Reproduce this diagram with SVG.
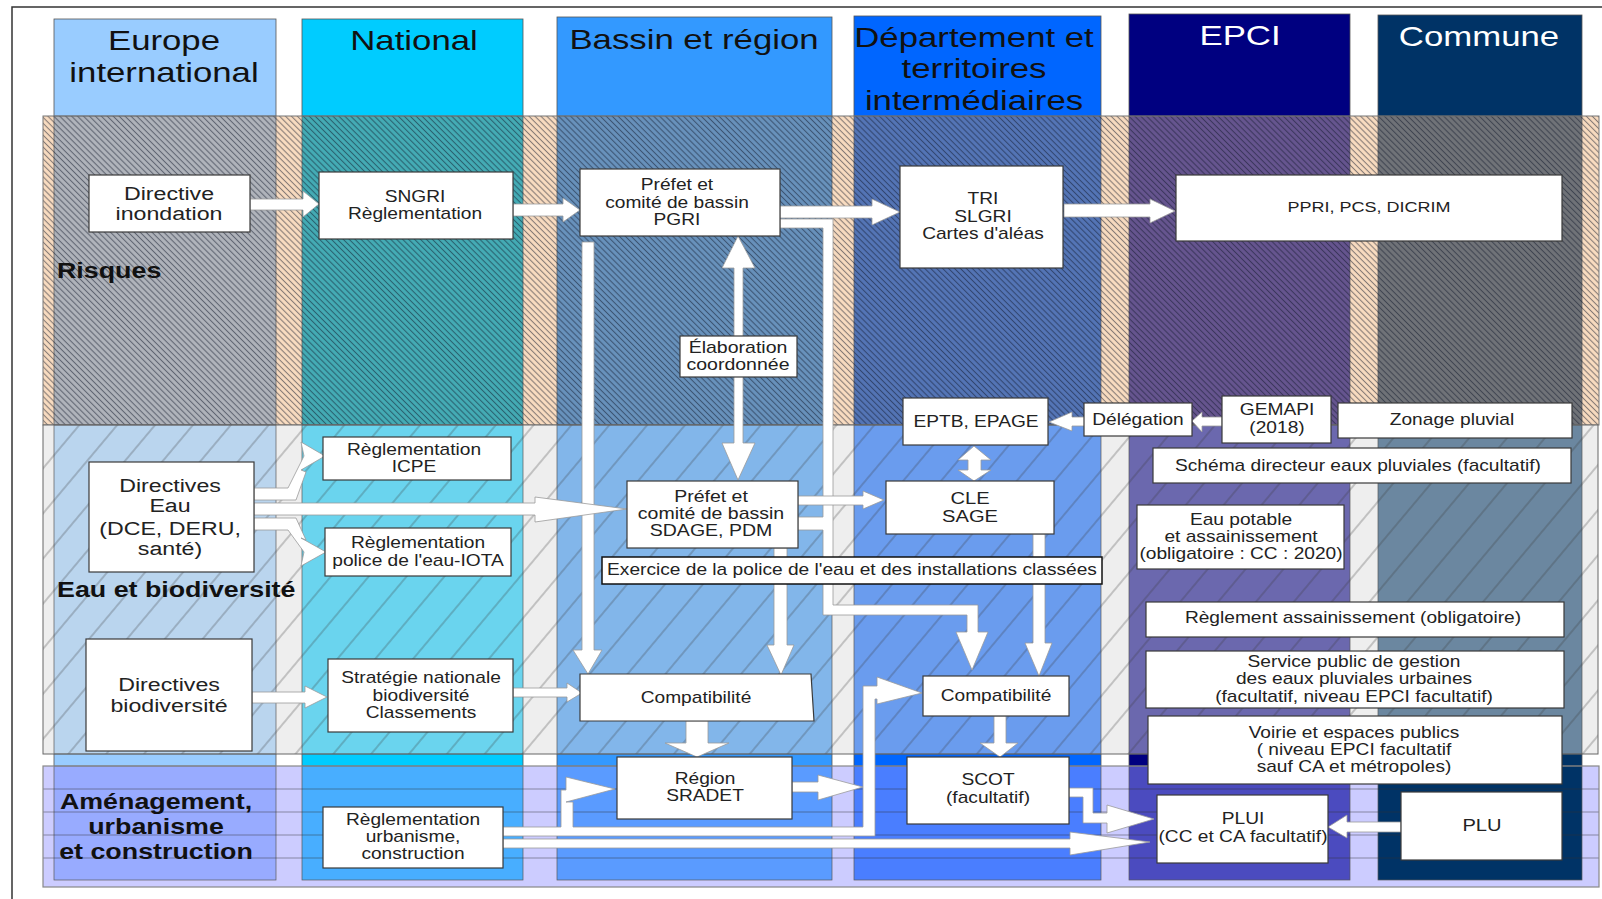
<svg xmlns="http://www.w3.org/2000/svg" width="1602" height="899" viewBox="0 0 1602 899">
<defs>
<pattern id="hR" patternUnits="userSpaceOnUse" width="4.2" height="10" patternTransform="rotate(-45)"><line x1="2.1" y1="0" x2="2.1" y2="10" stroke="#10182a" stroke-opacity="0.5" stroke-width="1.1"/></pattern>
<pattern id="hE" patternUnits="userSpaceOnUse" width="29" height="40" patternTransform="rotate(40)"><line x1="15" y1="0" x2="15" y2="40" stroke="#3a3a3a" stroke-opacity="0.55" stroke-width="0.9"/></pattern>
</defs>
<style>
.box{fill:#fff;stroke:#3a3a3a;stroke-width:1.2}
.t{font-family:"Liberation Sans",Arial,sans-serif;font-size:15.7px;fill:#222;text-anchor:middle}
.t19{font-size:19px}
.hd{font-family:"Liberation Sans",Arial,sans-serif;font-size:28.5px;fill:#111;text-anchor:middle}
.hw{fill:#fff}
.bl{font-family:"Liberation Sans",Arial,sans-serif;font-size:22px;font-weight:bold;fill:#111}
.ar{fill:#fff;stroke:#9a9a9a;stroke-width:0.8;stroke-linejoin:miter}
.col{stroke:#555;stroke-width:0.8}
.bc{stroke:#5a5a5a;stroke-width:0.7}
</style>
<rect width="1602" height="899" fill="#fff"/>
<path d="M12 899 V7 H1602" fill="none" stroke="#333" stroke-width="1.5"/>

<g id="columns">
<rect class="col" x="54" y="19" width="222" height="861" fill="#99ccff"/>
<rect class="col" x="302" y="19" width="221" height="861" fill="#00ccff"/>
<rect class="col" x="557" y="17" width="275" height="863" fill="#3399ff"/>
<rect class="col" x="854" y="16" width="247" height="864" fill="#0066ff"/>
<rect class="col" x="1129" y="14" width="221" height="866" fill="#000080"/>
<rect class="col" x="1378" y="15" width="204" height="865" fill="#003366"/>
</g>

<g id="band-risques">
<rect x="43" y="116" width="1556" height="309" fill="#f9dcc0"/>
<rect class="bc" x="54" y="116" width="222" height="309" fill="#b0b4bb"/>
<rect class="bc" x="302" y="116" width="221" height="309" fill="#44acb5"/>
<rect class="bc" x="557" y="116" width="275" height="309" fill="#6892bc"/>
<rect class="bc" x="854" y="116" width="247" height="309" fill="#5475b6"/>
<rect class="bc" x="1129" y="116" width="221" height="309" fill="#66558f"/>
<rect class="bc" x="1378" y="116" width="204" height="309" fill="#707378"/>
<rect x="43" y="116" width="1556" height="309" fill="url(#hR)" stroke="#777" stroke-width="1"/>
</g>

<g id="band-eau">
<rect x="43" y="425" width="1555" height="329" fill="#eeeeee"/>
<rect class="bc" x="54" y="425" width="222" height="329" fill="#bad5ee"/>
<rect class="bc" x="302" y="425" width="221" height="329" fill="#6ad4ee"/>
<rect class="bc" x="557" y="425" width="275" height="329" fill="#82b6ea"/>
<rect class="bc" x="854" y="425" width="247" height="329" fill="#6a9cee"/>
<rect class="bc" x="1129" y="425" width="221" height="329" fill="#6b68ae"/>
<rect class="bc" x="1378" y="425" width="204" height="329" fill="#6b87a0"/>
<rect x="43" y="425" width="1555" height="329" fill="url(#hE)" stroke="#666" stroke-width="1"/>
</g>

<g id="band-amenagement">
<rect x="43" y="766" width="1556" height="121" fill="#ccccff"/>
<rect class="bc" x="54" y="766" width="222" height="114" fill="#98abff"/>
<rect class="bc" x="302" y="766" width="221" height="114" fill="#48aeff"/>
<rect class="bc" x="557" y="766" width="275" height="114" fill="#5a9bff"/>
<rect class="bc" x="854" y="766" width="247" height="114" fill="#4a7eff"/>
<rect class="bc" x="1129" y="766" width="221" height="114" fill="#4b4bbf"/>
<rect class="bc" x="1378" y="766" width="204" height="114" fill="#003366"/>
<g stroke="#333" stroke-opacity="0.45" stroke-width="1">
<line x1="43" y1="789" x2="1599" y2="789"/>
<line x1="43" y1="812" x2="1599" y2="812"/>
<line x1="43" y1="835" x2="1599" y2="835"/>
<line x1="43" y1="858" x2="1599" y2="858"/>
</g>
<rect x="43" y="766" width="1556" height="121" fill="none" stroke="#888" stroke-width="1.2"/>
</g>

<g id="headers">
<text class="hd" transform="translate(164 0) scale(1.22 1)"><tspan x="0" y="50">Europe</tspan><tspan x="0" y="82">international</tspan></text>
<text class="hd" transform="translate(414 0) scale(1.22 1)" y="50">National</text>
<text class="hd" transform="translate(694 0) scale(1.22 1)" y="49">Bassin et région</text>
<text class="hd" transform="translate(974 0) scale(1.22 1)"><tspan x="0" y="47">Département et</tspan><tspan x="0" y="78">territoires</tspan><tspan x="0" y="110">intermédiaires</tspan></text>
<text class="hd hw" transform="translate(1240 0) scale(1.22 1)" y="45">EPCI</text>
<text class="hd hw" transform="translate(1479 0) scale(1.22 1)" y="46">Commune</text>
</g>

<g id="band-labels">
<text class="bl" transform="translate(57 0) scale(1.22 1)" y="278">Risques</text>
<text class="bl" transform="translate(57 0) scale(1.22 1)" y="597">Eau et biodiversité</text>
<text class="bl" transform="translate(156 0) scale(1.22 1)" text-anchor="middle"><tspan x="0" y="809">Aménagement,</tspan><tspan x="0" y="834">urbanisme</tspan><tspan x="0" y="859">et construction</tspan></text>
</g>

<g id="connectors">
<polygon class="ar" points="250,199 303,199 303,191 319,204 303,217 303,210 250,210"/>
<polygon class="ar" points="513,204 563,204 563,198 580,210 563,222 563,216 513,216"/>
<polygon class="ar" points="780,206 872,206 872,199 900,212 872,225 872,218 780,218"/>
<polygon class="ar" points="1064,204 1150,204 1150,199 1175,211 1150,223 1150,217 1064,217"/>
<polygon class="ar" points="780,219 833,219 833,605 978,605 978,632 988,632 972,670 956,632 967,632 967,615 823,615 823,530 798,530 798,517 823,517 823,228 780,228"/>
<polygon class="ar" points="582,242 594,242 594,650 602,650 588,674 573,650 582,650"/>
<polygon class="ar" points="738,236 755,268 743,268 743,443 755,443 738,480 722,443 734,443 734,268 722,268"/>
<polygon class="ar" points="254,503 535,503 535,497 627,509 535,522 535,515 254,515"/>
<polygon class="ar" points="254,500 296,500 306,472 301,470 325,456 301,442 304,456 288,488 254,488"/>
<polygon class="ar" points="254,518 296,518 306,540 301,538 326,552 301,566 304,552 288,530 254,530"/>
<polygon class="ar" points="798,496 863,496 863,491 884,500 863,509 863,505 798,505"/>
<polygon class="ar" points="774,548 787,548 787,645 794,645 781,675 767,645 774,645"/>
<polygon class="ar" points="1033,534 1045,534 1045,643 1052,643 1039,676 1025,643 1033,643"/>
<polygon class="ar" points="974,446 991,460 981,460 981,470 991,470 974,481 958,470 968,470 968,460 958,460"/>
<polygon class="ar" points="1222,417 1202,417 1202,412 1192,421 1202,432 1202,426 1222,426"/>
<polygon class="ar" points="1085,417 1072,417 1072,412 1049,422 1072,431 1072,426 1085,426"/>
<polygon class="ar" points="252,692 305,692 305,686 327,697 305,708 305,703 252,703"/>
<polygon class="ar" points="513,688 567,688 567,683 582,693 567,702 567,697 513,697"/>
<polygon class="ar" points="686,721 708,721 708,743 729,743 697,757 665,743 686,743"/>
<polygon class="ar" points="994,716 1006,716 1006,743 1018,743 1000,757 980,743 994,743"/>
<polygon class="ar" points="503,827 561,827 561,790 566,790 566,777 615,789 566,802 573,802 573,827 863,827 863,686 877,686 877,677 922,693 877,704 877,699 875,699 875,836 503,836"/>
<polygon class="ar" points="792,782 818,782 818,775 863,787 818,800 818,792 792,792"/>
<polygon class="ar" points="503,839 1070,839 1070,832 1150,842 1070,855 1070,848 503,848"/>
<polygon class="ar" points="1069,788 1093,788 1093,813 1107,813 1107,805 1154,819 1107,833 1107,823 1083,823 1083,797 1069,797"/>
<polygon class="ar" points="1401,822 1347,822 1347,815 1328,827 1347,838 1347,832 1401,832"/>
</g>

<g id="n-directive-inondation"><rect class="box" x="89" y="175" width="161" height="57"/>
<text class="t t19" transform="translate(169 0) scale(1.22 1)"><tspan x="0" y="200">Directive</tspan><tspan x="0" y="220">inondation</tspan></text></g>
<g id="n-sngri"><rect class="box" x="319" y="172" width="194" height="67"/>
<text class="t" transform="translate(415 0) scale(1.22 1)"><tspan x="0" y="202.5">SNGRI</tspan><tspan x="0" y="219.5">Règlementation</tspan></text></g>
<g id="n-pgri"><rect class="box" x="580" y="169" width="200" height="67"/>
<text class="t" transform="translate(677 0) scale(1.22 1)"><tspan x="0" y="190.5">Préfet et</tspan><tspan x="0" y="208.5">comité de bassin</tspan><tspan x="0" y="225.5">PGRI</tspan></text></g>
<g id="n-tri"><rect class="box" x="900" y="166" width="163" height="102"/>
<text class="t" transform="translate(983 0) scale(1.22 1)"><tspan x="0" y="204.5">TRI</tspan><tspan x="0" y="222.5">SLGRI</tspan><tspan x="0" y="239.5">Cartes d'aléas</tspan></text></g>
<g id="n-ppri"><rect class="box" x="1176" y="175" width="386" height="66"/>
<text class="t" transform="translate(1369 0) scale(1.2 1)" y="212.5" style="font-size:15px">PPRI, PCS, DICRIM</text></g>
<g id="n-elaboration"><rect class="box" x="680" y="336" width="117" height="41"/>
<text class="t" transform="translate(738 0) scale(1.22 1)" style="font-size:16px"><tspan x="0" y="353.5">Élaboration</tspan><tspan x="0" y="370.5">coordonnée</tspan></text></g>
<g id="n-eptb"><rect class="box" x="903" y="398" width="145" height="47"/>
<text class="t" transform="translate(976 0) scale(1.22 1)" y="427.5">EPTB, EPAGE</text></g>
<g id="n-delegation"><rect class="box" x="1084" y="403" width="108" height="33"/>
<text class="t" transform="translate(1138 0) scale(1.22 1)" y="425.5">Délégation</text></g>
<g id="n-gemapi"><rect class="box" x="1222" y="396" width="109" height="47"/>
<text class="t" transform="translate(1277 0) scale(1.22 1)"><tspan x="0" y="415.5">GEMAPI</tspan><tspan x="0" y="433.5">(2018)</tspan></text></g>
<g id="n-zonage"><rect class="box" x="1338" y="403" width="234" height="35"/>
<text class="t" transform="translate(1452 0) scale(1.22 1)" y="425.5">Zonage pluvial</text></g>
<g id="n-schema"><rect class="box" x="1153" y="448" width="418" height="35"/>
<text class="t" transform="translate(1358 0) scale(1.22 1)" y="471.5">Schéma directeur eaux pluviales (facultatif)</text></g>
<g id="n-eau-potable"><rect class="box" x="1137" y="505" width="207" height="64"/>
<text class="t" transform="translate(1241 0) scale(1.22 1)"><tspan x="0" y="525.5">Eau potable</tspan><tspan x="0" y="542.5">et assainissement</tspan><tspan x="0" y="559.5">(obligatoire : CC : 2020)</tspan></text></g>
<g id="n-directives-eau"><rect class="box" x="89" y="462" width="165" height="110"/>
<text class="t t19" transform="translate(170 0) scale(1.22 1)"><tspan x="0" y="492">Directives</tspan><tspan x="0" y="512">Eau</tspan><tspan x="0" y="535">(DCE, DERU,</tspan><tspan x="0" y="555">santé)</tspan></text></g>
<g id="n-icpe"><rect class="box" x="323" y="437" width="188" height="43"/>
<text class="t" transform="translate(414 0) scale(1.22 1)"><tspan x="0" y="455.5">Règlementation</tspan><tspan x="0" y="472.5">ICPE</tspan></text></g>
<g id="n-iota"><rect class="box" x="325" y="528" width="186" height="48"/>
<text class="t" transform="translate(418 0) scale(1.22 1)"><tspan x="0" y="548.5">Règlementation</tspan><tspan x="0" y="566.5">police de l'eau-IOTA</tspan></text></g>
<g id="n-sdage"><rect class="box" x="627" y="481" width="171" height="67"/>
<text class="t" transform="translate(711 0) scale(1.22 1)" style="font-size:16px"><tspan x="0" y="502.5">Préfet et</tspan><tspan x="0" y="519.5">comité de bassin</tspan><tspan x="0" y="536.5">SDAGE, PDM</tspan></text></g>
<g id="n-cle"><rect class="box" x="886" y="481" width="168" height="53"/>
<text class="t" transform="translate(970 0) scale(1.22 1)" style="font-size:16.5px"><tspan x="0" y="504">CLE</tspan><tspan x="0" y="522">SAGE</tspan></text></g>
<g id="n-exercice"><rect class="box" x="602" y="557" width="500" height="27" style="stroke:#111;stroke-width:1.5"/>
<text class="t" transform="translate(852 0) scale(1.22 1)" y="575.5">Exercice de la police de l'eau et des installations classées</text></g>
<g id="n-directives-bio"><rect class="box" x="86" y="639" width="166" height="112"/>
<text class="t t19" transform="translate(169 0) scale(1.22 1)"><tspan x="0" y="691">Directives</tspan><tspan x="0" y="712">biodiversité</tspan></text></g>
<g id="n-strategie"><rect class="box" x="328" y="659" width="185" height="73"/>
<text class="t" transform="translate(421 0) scale(1.22 1)"><tspan x="0" y="683.5">Stratégie nationale</tspan><tspan x="0" y="701.5">biodiversité</tspan><tspan x="0" y="718.5">Classements</tspan></text></g>
<g id="n-compat-l"><path class="box" d="M580 674 H811 L814 721 H580 Z"/>
<text class="t" transform="translate(696 0) scale(1.22 1)" y="703.5">Compatibilité</text></g>
<g id="n-compat-r"><rect class="box" x="923" y="676" width="146" height="40"/>
<text class="t" transform="translate(996 0) scale(1.22 1)" y="701.5">Compatibilité</text></g>
<g id="n-region"><rect class="box" x="617" y="757" width="175" height="62"/>
<text class="t" transform="translate(705 0) scale(1.22 1)"><tspan x="0" y="784.5">Région</tspan><tspan x="0" y="801.5">SRADET</tspan></text></g>
<g id="n-scot"><rect class="box" x="907" y="757" width="162" height="67"/>
<text class="t" transform="translate(988 0) scale(1.22 1)"><tspan x="0" y="785.5">SCOT</tspan><tspan x="0" y="803.5">(facultatif)</tspan></text></g>
<g id="n-reglement-ass"><rect class="box" x="1146" y="602" width="418" height="35"/>
<text class="t" transform="translate(1353 0) scale(1.22 1)" y="623.5">Règlement assainissement (obligatoire)</text></g>
<g id="n-service"><rect class="box" x="1146" y="651" width="418" height="57"/>
<text class="t" transform="translate(1354 0) scale(1.22 1)"><tspan x="0" y="667.5">Service public de gestion</tspan><tspan x="0" y="684.5">des eaux pluviales urbaines</tspan><tspan x="0" y="702.5">(facultatif, niveau EPCI facultatif)</tspan></text></g>
<g id="n-voirie"><rect class="box" x="1148" y="716" width="414" height="68"/>
<text class="t" transform="translate(1354 0) scale(1.22 1)"><tspan x="0" y="738.5">Voirie et espaces publics</tspan><tspan x="0" y="755.5">( niveau EPCI facultatif</tspan><tspan x="0" y="772.5">sauf CA et métropoles)</tspan></text></g>
<g id="n-plui"><rect class="box" x="1157" y="795" width="171" height="68"/>
<text class="t" transform="translate(1243 0) scale(1.22 1)"><tspan x="0" y="824.5">PLUI</tspan><tspan x="0" y="842.5">(CC et CA facultatif)</tspan></text></g>
<g id="n-plu"><rect class="box" x="1401" y="792" width="161" height="68"/>
<text class="t" transform="translate(1482 0) scale(1.22 1)" y="831.5" style="font-size:16.5px">PLU</text></g>
<g id="n-urbanisme"><rect class="box" x="323" y="807" width="180" height="61"/>
<text class="t" transform="translate(413 0) scale(1.22 1)"><tspan x="0" y="825.5">Règlementation</tspan><tspan x="0" y="842.5">urbanisme,</tspan><tspan x="0" y="859.5">construction</tspan></text></g>
</svg>
